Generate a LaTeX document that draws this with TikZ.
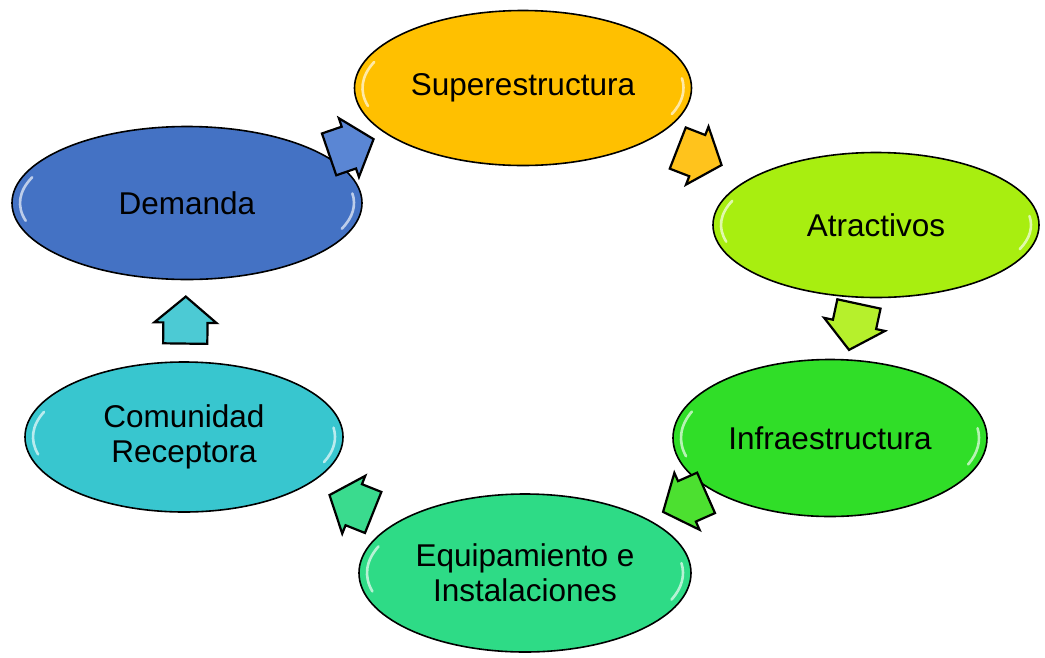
\documentclass[tikz,border=0pt]{standalone}
\usepackage{fontspec}
\setmainfont{Liberation Sans}
\usepackage{xcolor}
\usetikzlibrary{positioning}
\usetikzlibrary{calc}
\usetikzlibrary{shapes.geometric,shapes.arrows}

\definecolor{demC}{HTML}{4472C4}
\definecolor{supC}{HTML}{FFC000}
\definecolor{atrC}{HTML}{A8EE10}
\definecolor{infC}{HTML}{30DE28}
\definecolor{eqC}{HTML}{2EDB86}
\definecolor{comC}{HTML}{38C6CF}
\definecolor{demA}{HTML}{5A86D4}
\definecolor{supA}{HTML}{FFC31C}
\definecolor{atrA}{HTML}{B6F02C}
\definecolor{infA}{HTML}{4CE030}
\definecolor{eqA}{HTML}{3ADB8E}
\definecolor{comA}{HTML}{4CCAD4}

\tikzset{
  oval/.style={ellipse, draw=black, line width=1.6pt, inner sep=0pt, align=center,
    font=\fontsize{31.5}{35}\selectfont,
    path picture={
      \path let \p1=($(path picture bounding box.north east)-(path picture bounding box.center)$),
        \n1={\x1-8pt}, \n2={\y1-8pt} in
        [draw=white, line width=2.6pt, opacity=.65, line cap=round]
        (path picture bounding box.center) ++(158:\n1 and \n2)
          arc[start angle=158, end angle=195, x radius=\n1, y radius=\n2]
        (path picture bounding box.center) ++(-22:\n1 and \n2)
          arc[start angle=-22, end angle=8, x radius=\n1, y radius=\n2];
    }},
  turn/.style={single arrow, draw=black, line width=2.2pt, inner xsep=0pt, inner ysep=21pt,
    minimum height=47pt, single arrow head extend=9pt,
    single arrow tip angle=100, sloped, allow upside down}
}

\begin{document}
\begin{tikzpicture}[x=1pt, y=-1pt]
\useasboundingbox (0,0) rectangle (1045,657);

\node[oval, fill=demC, minimum width=350pt, minimum height=153pt] (dem) at (187,203) {Demanda};
\node[oval, fill=supC, minimum width=337pt, minimum height=155pt, on grid, above right=115pt and 336pt of dem] (sup) {Superestructura};
\node[oval, fill=atrC, minimum width=326pt, minimum height=145pt, on grid, below right=137pt and 353pt of sup] (atr) {Atractivos};
\node[oval, fill=infC, minimum width=314pt, minimum height=157pt, on grid, below left=213pt and 46pt of atr] (inf) {Infraestructura};
\node[oval, fill=eqC, minimum width=332pt, minimum height=158pt, on grid, below left=135pt and 305pt of inf] (eq) {Equipamiento e\\Instalaciones};
\node[oval, fill=comC, minimum width=318pt, minimum height=150pt, on grid, above left=136pt and 341pt of eq] (com) {Comunidad\\Receptora};

\path (dem.center) -- node[turn, fill=demA, pos=.463] (a1) {} (sup.center);
\path (sup.center) -- node[turn, fill=supA, pos=.476] (a2) {} (atr.center);
\path (atr.center) -- node[turn, fill=atrA, pos=.436] (a3) {} (inf.center);
\path (inf.center) -- node[turn, fill=infA, pos=.449] (a4) {} (eq.center);
\path (eq.center) -- node[turn, fill=eqA, pos=.484] (a5) {} (com.center);
\path (com.center) -- node[turn, fill=comA, pos=.46] (a6) {} (dem.center);
\end{tikzpicture}
\end{document}
